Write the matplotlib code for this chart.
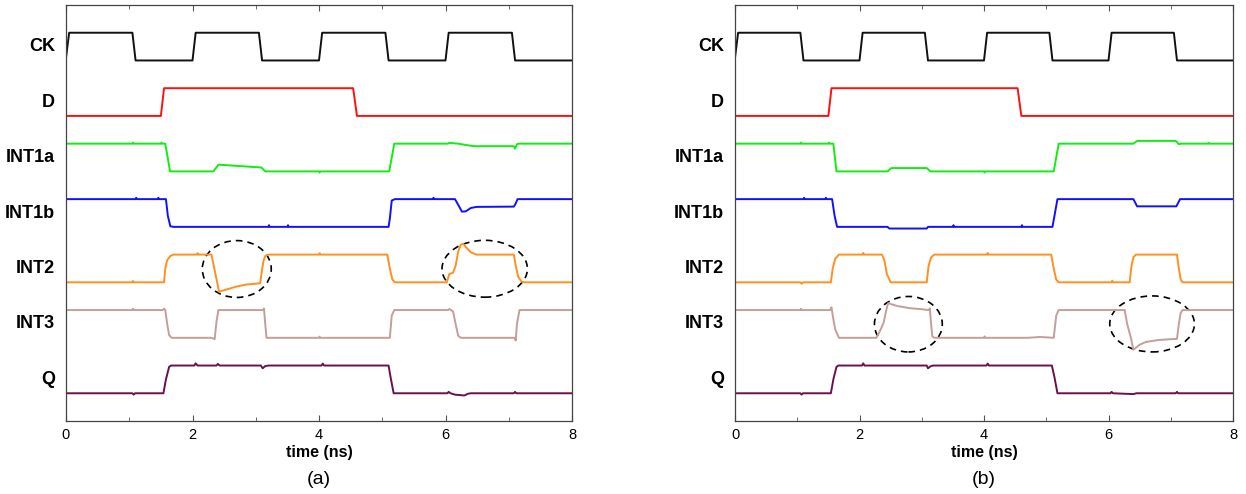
import numpy as np
import matplotlib.pyplot as plt
from matplotlib.patches import Ellipse

plt.rcParams['font.family'] = ['Liberation Sans', 'DejaVu Sans']

# signal names, top to bottom
names = ["CK", "D", "INT1a", "INT1b", "INT2", "INT3", "Q"]
colors = ["#111111", "#ff1010", "#10ee10", "#1010ff", "#ff9020", "#c49e9a", "#6a1050"]

# waveforms: time (ns) and normalised level (0 = low, 1 = high)
ck_t = [0, 0.05, 1.05, 1.10, 2.0, 2.05, 3.05, 3.10, 4.0, 4.05, 5.05, 5.10, 6.0, 6.05, 7.05, 7.10, 8.0]
ck_v = [0.1, 1, 1, 0, 0, 1, 1, 0, 0, 1, 1, 0, 0, 1, 1, 0, 0]

d_t = [0, 1.50, 1.55, 4.54, 4.60, 8.0]
d_v = [0, 0, 1, 1, 0, 0]

# panel (a)
int1a_a_t = [0, 1.05, 1.06, 1.07, 1.50, 1.51, 1.52, 1.57, 1.645, 2.33, 2.41, 2.5, 3.09, 3.15, 4.0, 4.01, 4.02,
             5.11, 5.19, 6.04, 6.06, 6.2, 6.44, 7.08, 7.10, 7.13, 7.16, 8.0]
int1a_a_v = [1, 1, 1.04, 1, 1, 1.04, 1, 1, 0, 0, 0.24, 0.23, 0.14, 0, 0, -0.04, 0,
             0, 1, 1, 1.03, 1.0, 0.91, 0.91, 0.82, 0.98, 1, 1]

int1b_a_t = [0, 1.10, 1.11, 1.12, 1.45, 1.46, 1.47, 1.58, 1.61, 1.65, 1.70, 3.2, 3.21, 3.22, 3.5, 3.51, 3.52,
             5.10, 5.12, 5.15, 5.20, 5.8, 5.81, 5.82, 6.15, 6.20, 6.26, 6.32, 6.40, 6.49, 7.08, 7.10, 7.14, 8.0]
int1b_a_v = [1, 1, 1.05, 1, 1, 1.05, 1, 1, 0.4, 0.02, 0, 0, 0.06, 0, 0, 0.06, 0,
             0, 0.3, 0.95, 1, 1, 1.05, 1, 1, 0.8, 0.55, 0.56, 0.68, 0.72, 0.73, 0.8, 1, 1]

int2_a_t = [0, 1.05, 1.06, 1.07, 1.55, 1.57, 1.60, 1.65, 1.70, 2.07, 2.08, 2.09, 2.30, 2.42, 2.55, 2.70, 2.85,
            3.0, 3.07, 3.09, 3.12, 3.15, 3.20, 4.0, 4.01, 4.02, 5.08, 5.12, 5.16, 5.20, 6.02, 6.06, 6.12, 6.16,
            6.20, 6.24, 6.28, 6.33, 6.40, 6.49, 7.08, 7.11, 7.15, 7.20, 7.25, 8.0]
int2_a_v = [0, 0, 0.05, 0, 0, 0.5, 0.8, 0.95, 1, 1, 1.05, 1, 1, -0.34, -0.25, -0.15, -0.08,
            -0.05, -0.03, 0.3, 0.75, 0.95, 1, 1, 1.05, 1, 1, 0.5, 0.1, 0, 0, 0.3, 0.35, 0.6,
            1.1, 1.35, 1.39, 1.25, 1.08, 1.0, 1, 0.6, 0.2, 0.03, 0, 0]

int3_a_t = [0, 1.05, 1.06, 1.07, 1.53, 1.55, 1.57, 1.60, 1.63, 1.67, 2.30, 2.35, 2.38, 2.41, 3.12, 3.13, 3.15,
            3.17, 4.0, 4.01, 4.02, 5.12, 5.15, 5.19, 6.04, 6.06, 6.12, 6.16, 6.20, 6.24, 7.09, 7.11, 7.13, 7.17, 8.0]
int3_a_v = [1, 1, 1.05, 1, 1, 1.05, 1, 0.5, 0.1, 0, 0, -0.05, 0.6, 1, 1, 1.06, 0.5,
            0, 0, 0.04, 0, 0, 0.8, 1, 1, 1.04, 0.95, 0.5, 0.08, 0, 0, -0.1, 0.5, 1, 1]

q_a_t = [0, 1.05, 1.07, 1.09, 1.54, 1.58, 1.63, 1.66, 2.03, 2.05, 2.08, 2.38, 2.40, 2.43, 3.08, 3.11, 3.15,
         3.20, 4.04, 4.06, 4.08, 5.10, 5.13, 5.18, 6.03, 6.05, 6.08, 6.15, 6.30, 6.35, 6.40, 7.08, 7.10, 7.12, 8.0]
q_a_v = [0, 0, -0.05, 0, 0, 0.5, 0.95, 1, 1, 1.08, 1, 1, 1.06, 1, 1, 0.9, 0.98,
         1, 1, 1.07, 1, 1, 0.6, 0, 0, 0.05, 0, -0.05, -0.08, -0.02, 0, 0, 0.05, 0, 0]

# panel (b)
int1a_b_t = [0, 1.05, 1.06, 1.07, 1.50, 1.51, 1.52, 1.58, 1.63, 2.45, 2.51, 3.08, 3.14, 4.0, 4.01, 4.02,
             5.12, 5.20, 6.40, 6.46, 7.08, 7.10, 7.13, 7.16, 7.6, 7.61, 7.62, 8.0]
int1a_b_v = [1, 1, 1.04, 1, 1, 1.04, 1, 1, 0, 0, 0.12, 0.12, 0, 0, -0.04, 0,
             0, 1, 1, 1.1, 1.1, 1.05, 0.98, 1.0, 1.0, 1.03, 1.0, 1.0]

int1b_b_t = [0, 1.10, 1.11, 1.12, 1.45, 1.46, 1.47, 1.56, 1.60, 1.64, 2.45, 2.48, 3.08, 3.10, 3.5, 3.51, 3.52,
             4.6, 4.61, 4.62, 5.10, 5.18, 6.40, 6.46, 7.09, 7.15, 8.0]
int1b_b_v = [1, 1, 1.05, 1, 1, 1.05, 1, 1, 0.4, 0, 0, -0.06, -0.06, 0, 0, 0.06, 0,
             0, 0.06, 0, 0, 1, 1, 0.74, 0.74, 1, 1]

int2_b_t = [0, 1.05, 1.07, 1.09, 1.54, 1.57, 1.61, 1.67, 2.05, 2.06, 2.07, 2.36, 2.40, 2.44, 2.50, 3.08,
            3.11, 3.15, 3.20, 4.05, 4.06, 4.07, 5.08, 5.12, 5.16, 5.20, 6.05, 6.06, 6.07, 6.34, 6.37, 6.40,
            6.44, 7.10, 7.13, 7.16, 7.19, 8.0]
int2_b_v = [0, 0, -0.05, 0, 0, 0.5, 0.85, 1, 1, 1.06, 1, 1, 0.8, 0.3, 0, 0,
            0.6, 0.9, 1, 1, 1.06, 1, 1, 0.5, 0.1, 0, 0, 0.06, 0, 0, 0.6, 0.9,
            1, 1, 0.5, 0.1, 0, 0]

int3_b_t = [0, 1.05, 1.06, 1.07, 1.53, 1.55, 1.57, 1.61, 1.67, 2.27, 2.33, 2.39, 2.43, 2.46, 2.60, 2.80,
            3.0, 3.11, 3.13, 3.15, 3.17, 3.20, 4.0, 4.01, 4.02, 4.7, 4.9, 5.12, 5.16, 5.20, 6.26, 6.30,
            6.36, 6.40, 6.50, 6.60, 6.80, 7.0, 7.10, 7.13, 7.16, 7.19, 8.0]
int3_b_v = [1, 1, 1.05, 1, 1, 1.1, 0.8, 0.3, 0, 0, 0.25, 0.56, 1.0, 1.25, 1.15, 1.07,
            1.03, 1.0, 1.06, 0.5, 0.05, 0, 0, 0.05, 0, 0, 0.03, 0, 0.8, 1, 1, 0.5,
            0, -0.43, -0.25, -0.15, -0.08, -0.05, -0.04, 0.5, 0.9, 1, 1]

q_b_t = [0, 1.05, 1.07, 1.09, 1.54, 1.58, 1.63, 1.66, 2.04, 2.06, 2.08, 3.08, 3.10, 3.14, 3.18, 4.04,
         4.06, 4.08, 5.09, 5.13, 5.18, 6.03, 6.05, 6.07, 6.4, 6.45, 7.08, 7.10, 7.12, 8.0]
q_b_v = [0, 0, -0.05, 0, 0, 0.5, 0.95, 1, 1, 1.08, 1, 1, 0.9, 0.97, 1, 1,
         1.07, 1, 1, 0.6, 0, 0, 0.05, 0, -0.03, 0, 0, 0.05, 0, 0]

traces_a = [(ck_t, ck_v), (d_t, d_v), (int1a_a_t, int1a_a_v), (int1b_a_t, int1b_a_v),
            (int2_a_t, int2_a_v), (int3_a_t, int3_a_v), (q_a_t, q_a_v)]
traces_b = [(ck_t, ck_v), (d_t, d_v), (int1a_b_t, int1a_b_v), (int1b_b_t, int1b_b_v),
            (int2_b_t, int2_b_v), (int3_b_t, int3_b_v), (q_b_t, q_b_v)]

# dashed circles: (centre time, centre level, width ns, height)
circles_a = [(2.70, 5.48, 1.09, 2.05), (6.62, 5.49, 1.35, 2.05)]
circles_b = [(2.785, 3.49, 1.09, 2.0), (6.70, 3.50, 1.36, 2.02)]

xticks = [0, 2, 4, 6, 8]


def draw_panel(ax, traces, circles, tag):
    n = len(names)
    for i, (t, v) in enumerate(traces):
        base = 1 + 2 * (n - 1 - i)
        ax.plot(t, np.array(v) + base, color=colors[i], lw=1.4)
        ax.annotate(names[i], xy=(0, base + 0.5), xycoords=('axes fraction', 'data'),
                    xytext=(-11, 0), textcoords='offset pixels',
                    ha='right', va='center', fontsize=13, fontweight='bold')
    for cx, cy, w, h in circles:
        ax.add_patch(Ellipse((cx, cy), w, h, fill=False, ec='black', lw=1.2,
                             linestyle=(0, (4, 3))))
    ax.set_xlim(0, 8)
    ax.set_ylim(0, 15)
    ax.set_yticks([])
    ax.set_xticks(xticks)
    ax.set_xticks([1, 3, 5, 7], minor=True)
    ax.tick_params(axis='x', which='both', direction='in', top=True, labelsize=10.5,
                   pad=5, color='#555555')
    ax.tick_params(axis='x', which='major', length=4)
    ax.tick_params(axis='x', which='minor', length=3)
    for s in ax.spines.values():
        s.set_color('#444444')
        s.set_linewidth(0.9)
    ax.set_xlabel("time (ns)", fontsize=11.5, fontweight='bold', labelpad=2)
    ax.text(0.5, -0.14, tag, transform=ax.transAxes, ha='center', va='center', fontsize=14)


fig = plt.figure(figsize=(12.46, 4.94), dpi=100)
ax1 = fig.add_axes([66 / 1246, 73 / 494, 506 / 1246, 416 / 494])
ax2 = fig.add_axes([735 / 1246, 73 / 494, 498 / 1246, 416 / 494])
draw_panel(ax1, traces_a, circles_a, "(a)")
draw_panel(ax2, traces_b, circles_b, "(b)")
fig.savefig("out.png", dpi=100)
